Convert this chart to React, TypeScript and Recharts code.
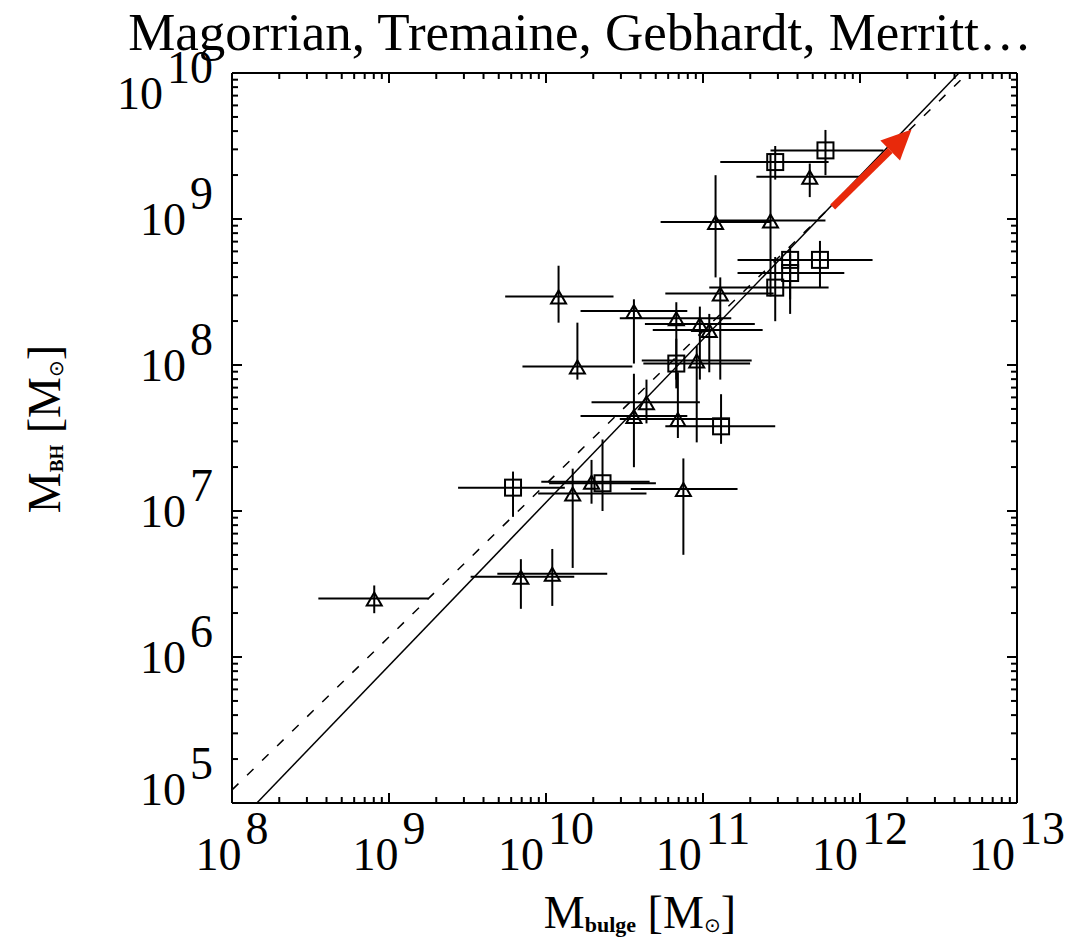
import React from 'react';
import { ScatterChart, Scatter, XAxis, YAxis, ErrorBar, ReferenceLine } from 'recharts';

// log10 values: bulge mass, black-hole mass, and the ends of each error bar
const sqLogBulge = [11.78, 11.46, 11.745, 11.555, 11.555, 11.46, 10.83, 11.115, 9.79, 10.36];
const sqLogBH = [9.47, 9.39, 8.72, 8.72, 8.63, 8.53, 8.01, 7.58, 7.16, 7.19];
const sqBulgeLo = [11.43, 11.11, 11.43, 11.22, 11.22, 11.04, 10.62, 10.76, 9.44, 10.02];
const sqBulgeHi = [12.15, 11.8, 12.08, 11.9, 11.9, 11.8, 11.3, 11.46, 10.12, 10.7];
const sqBHLo = [9.3, 9.27, 8.53, 8.45, 8.35, 8.3, 7.84, 7.46, 6.96, 7.0];
const sqBHHi = [9.61, 9.5, 8.85, 8.81, 8.76, 8.74, 8.18, 7.8, 7.27, 7.49];

const triLogBulge = [11.68, 11.08, 11.43, 11.11, 10.08, 10.56, 10.83, 10.98, 11.04, 10.2, 10.96, 10.64, 10.56, 10.84, 10.17, 10.29, 10.875, 9.84, 10.04, 8.906];
const triLogBH = [9.29, 8.98, 8.99, 8.49, 8.47, 8.37, 8.32, 8.28, 8.24, 7.99, 8.03, 7.745, 7.65, 7.63, 7.12, 7.2, 7.15, 6.55, 6.57, 6.4];
const triBulgeLo = [11.34, 10.73, 11.08, 10.76, 9.74, 10.22, 10.47, 10.63, 10.68, 9.85, 10.61, 10.29, 10.22, 10.47, 9.95, 9.97, 10.54, 9.52, 9.69, 8.55];
const triBulgeHi = [12.0, 11.43, 11.78, 11.45, 10.43, 10.9, 11.18, 11.33, 11.38, 10.55, 11.31, 10.98, 10.9, 11.17, 10.64, 10.66, 11.22, 10.18, 10.39, 9.25];
const triBHLo = [9.15, 8.6, 8.47, 7.9, 8.29, 8.01, 7.9, 7.9, 7.95, 7.9, 7.47, 7.6, 7.3, 7.5, 6.61, 7.05, 6.7, 6.33, 6.35, 6.3];
const triBHHi = [9.38, 9.3, 9.45, 8.6, 8.68, 8.45, 8.43, 8.4, 8.35, 8.29, 8.13, 7.9, 7.94, 7.95, 7.29, 7.35, 7.36, 6.67, 6.74, 6.49];

// fitted relations and the annotation arrow, as end points in solar masses
const solidFit = [{ x: 1.44e8, y: 1e5 }, { x: 4.27e12, y: 1e10 }];
const dashedFit = [{ x: 1e8, y: 1.23e5 }, { x: 4.87e12, y: 1e10 }];
const arrow = [{ x: 6.7e11, y: 1.21e9 }, { x: 2.13e12, y: 4.11e9 }];

const xDecades = [8, 9, 10, 11, 12, 13];
const yDecades = [5, 6, 7, 8, 9, 10];
const minorSteps = [1, 2, 3, 4, 5, 6, 7, 8, 9];

const logTicks = (decades: number[]) =>
  decades.flatMap((d, i) => (i === decades.length - 1 ? [10 ** d] : minorSteps.map((m) => m * 10 ** d)));
const xTicks = logTicks(xDecades);
const yTicks = logTicks(yDecades);

const build = (lx: number[], ly: number[], xlo: number[], xhi: number[], ylo: number[], yhi: number[]) =>
  lx.map((v, i) => {
    const x = 10 ** v;
    const y = 10 ** ly[i];
    return {
      x,
      y,
      ex: [x - 10 ** xlo[i], 10 ** xhi[i] - x],
      ey: [y - 10 ** ylo[i], 10 ** yhi[i] - y],
    };
  });

const squares = build(sqLogBulge, sqLogBH, sqBulgeLo, sqBulgeHi, sqBHLo, sqBHHi);
const triangles = build(triLogBulge, triLogBH, triBulgeLo, triBulgeHi, triBHLo, triBHHi);

const W = 1083;
const H = 933;
const MARGIN = { top: 64, right: 73, bottom: 137, left: 223 };
const PLOT_TOP = MARGIN.top + 1;
const PLOT_BOTTOM = H - MARGIN.bottom - 1;
const SERIF = "'Liberation Serif', 'Times New Roman', serif";
const TICK_FONT = 46;

const expOf = (v: number) => Math.round(Math.log10(v));
const isMajor = (v: number) => Math.abs(Math.log10(v) - expOf(v)) < 1e-9;

const Pow = ({ x, y, e, anchor }: { x: number; y: number; e: number; anchor: 'middle' | 'end' }) => (
  <text x={x} y={y} textAnchor={anchor} fontFamily={SERIF} fontSize={TICK_FONT} fill="#000">
    <tspan>10</tspan>
    <tspan dx={4} dy={-26}>{e}</tspan>
  </text>
);

const makeTick = (side: 'bottom' | 'top' | 'left' | 'right') => (props: any) => {
  const { x, y, payload } = props;
  const v = payload.value;
  const major = isMajor(v);
  const len = major ? 10 : 6;
  let x2 = x;
  let y2 = y;
  if (side === 'bottom') y2 = y - len;
  if (side === 'top') y2 = y + len;
  if (side === 'left') x2 = x + len;
  if (side === 'right') x2 = x - len;
  // left labels are centred on their tick but kept inside the frame height
  const labelMid = Math.min(Math.max(y, PLOT_TOP + 20), PLOT_BOTTOM - 14);
  return (
    <g>
      <line x1={x} y1={y} x2={x2} y2={y2} stroke="#000" strokeWidth={2} />
      {major && side === 'bottom' && <Pow x={x} y={y + 67} e={expOf(v)} anchor="middle" />}
      {major && side === 'left' && <Pow x={x - 19} y={labelMid + 16} e={expOf(v)} anchor="end" />}
    </g>
  );
};

const Triangle = (p: any) => {
  const { cx, cy } = p;
  return (
    <path
      d={`M${cx},${cy - 6} L${cx + 7.5},${cy + 7} L${cx - 7.5},${cy + 7} Z`}
      fill="none"
      stroke="#000"
      strokeWidth={2}
    />
  );
};

const Square = (p: any) => {
  const { cx, cy } = p;
  return <rect x={cx - 8} y={cy - 8} width={16} height={16} fill="none" stroke="#000" strokeWidth={2} />;
};

// red arrow: shaft plus a filled head at the far end
const ArrowShape = (p: any) => {
  const { x1, y1, x2, y2 } = p;
  const ang = Math.atan2(y2 - y1, x2 - x1);
  const headLen = 30;
  const headHalf = 14;
  const bx = x2 - headLen * Math.cos(ang);
  const by = y2 - headLen * Math.sin(ang);
  const nx = -Math.sin(ang);
  const ny = Math.cos(ang);
  return (
    <g>
      <line x1={x1} y1={y1} x2={bx} y2={by} stroke="#e8290b" strokeWidth={7} />
      <polygon
        points={`${x2},${y2} ${bx + nx * headHalf},${by + ny * headHalf} ${bx - nx * headHalf},${by - ny * headHalf}`}
        fill="#e8290b"
      />
    </g>
  );
};

const bar = { stroke: '#000', strokeWidth: 2, width: 0 };
const frame = { stroke: '#000', strokeWidth: 2 };

export default function App() {
  return (
    <div style={{ position: 'relative', width: W, height: H }}>
      <ScatterChart width={W} height={H} margin={MARGIN}>
        <XAxis
          xAxisId="b"
          dataKey="x"
          type="number"
          scale="log"
          domain={[1e8, 1e13]}
          allowDataOverflow
          ticks={xTicks}
          interval={0}
          height={1}
          tickSize={0}
          tickMargin={0}
          tickLine={false}
          axisLine={frame}
          tick={makeTick('bottom')}
        />
        <XAxis
          xAxisId="t"
          orientation="top"
          dataKey="x"
          type="number"
          scale="log"
          domain={[1e8, 1e13]}
          allowDataOverflow
          ticks={xTicks}
          interval={0}
          height={1}
          tickSize={0}
          tickMargin={0}
          tickLine={false}
          axisLine={frame}
          tick={makeTick('top')}
        />
        <YAxis
          yAxisId="l"
          dataKey="y"
          type="number"
          scale="log"
          domain={[1e5, 1e10]}
          allowDataOverflow
          ticks={yTicks}
          interval={0}
          width={1}
          tickSize={0}
          tickMargin={0}
          tickLine={false}
          axisLine={frame}
          tick={makeTick('left')}
        />
        <YAxis
          yAxisId="r"
          orientation="right"
          dataKey="y"
          type="number"
          scale="log"
          domain={[1e5, 1e10]}
          allowDataOverflow
          ticks={yTicks}
          interval={0}
          width={1}
          tickSize={0}
          tickMargin={0}
          tickLine={false}
          axisLine={frame}
          tick={makeTick('right')}
        />
        <ReferenceLine xAxisId="b" yAxisId="l" segment={solidFit} stroke="#000" strokeWidth={1.5} ifOverflow="visible" />
        <ReferenceLine
          xAxisId="b"
          yAxisId="l"
          segment={dashedFit}
          stroke="#000"
          strokeWidth={1.5}
          strokeDasharray="9 12"
          ifOverflow="visible"
        />
        <Scatter xAxisId="b" yAxisId="l" data={triangles} shape={Triangle} isAnimationActive={false}>
          <ErrorBar dataKey="ex" direction="x" {...bar} />
          <ErrorBar dataKey="ey" direction="y" {...bar} />
        </Scatter>
        <Scatter xAxisId="b" yAxisId="l" data={squares} shape={Square} isAnimationActive={false}>
          <ErrorBar dataKey="ex" direction="x" {...bar} />
          <ErrorBar dataKey="ey" direction="y" {...bar} />
        </Scatter>
        <Scatter xAxisId="t" yAxisId="r" data={[]} isAnimationActive={false} />
        <ReferenceLine xAxisId="b" yAxisId="l" segment={arrow} shape={ArrowShape} ifOverflow="visible" />
      </ScatterChart>
      <svg
        width={W}
        height={H}
        style={{ position: 'absolute', left: 0, top: 0, pointerEvents: 'none', overflow: 'visible' }}
      >
        <text x={572} y={42} textAnchor="middle" fontFamily={SERIF} fontSize={53} fill="#000">
          Magorrian, Tremaine, Gebhardt, Merritt…
        </text>
        <g transform="translate(52, 421) rotate(-90)">
          <text x={0} y={0} textAnchor="middle" fontFamily={SERIF} fontSize={46} fill="#000">
            <tspan>M</tspan>
            <tspan fontSize={19} fontWeight="bold" dy={3}>BH</tspan>
            <tspan dy={-3}> [M</tspan>
            <tspan fontSize={20} dy={3}>⊙</tspan>
            <tspan dy={-3}>]</tspan>
          </text>
        </g>
        <text x={632} y={920} textAnchor="middle" fontFamily={SERIF} fontSize={46} fill="#000">
          <tspan>M</tspan>
          <tspan fontSize={22} fontWeight="bold" dy={4}>bulge</tspan>
          <tspan dy={-4}> [M</tspan>
          <tspan fontSize={20} dy={4}>⊙</tspan>
          <tspan dy={-4}>]</tspan>
        </text>
      </svg>
    </div>
  );
}
